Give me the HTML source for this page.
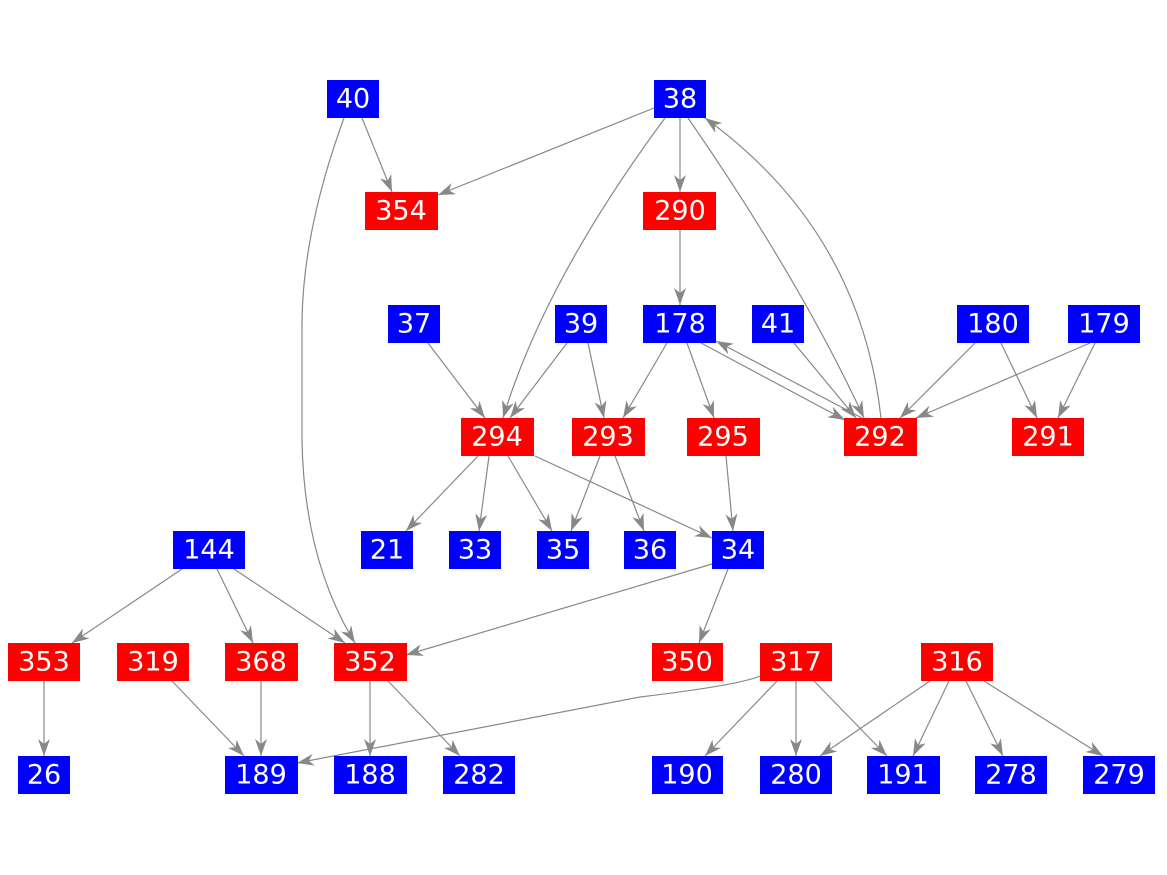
<!DOCTYPE html>
<html><head><meta charset="utf-8"><style>
html,body{margin:0;padding:0;background:#fff;}
svg{display:block;}
text{font-family:"DejaVu Sans","Liberation Sans",sans-serif;font-size:27px;fill:#fff;text-anchor:middle;dominant-baseline:central;}
.e{stroke:#888;stroke-width:1.2;fill:none;marker-end:url(#a);}
</style></head><body>
<svg width="1167" height="875" viewBox="0 0 1167 875" xmlns="http://www.w3.org/2000/svg">
<defs><marker id="a" markerUnits="userSpaceOnUse" markerWidth="18" markerHeight="14" refX="17" refY="6" orient="auto"><path d="M0,0 L17,6 L0,12 L5,6 z" fill="#888"/></marker></defs>
<g>
<path class="e" d="M362,118 L392,192"/>
<path class="e" d="M344,118 Q303,230 302,322 L302,440 Q304,560 355,643"/>
<path class="e" d="M654,108 L438,195"/>
<path class="e" d="M680,118 L680,192"/>
<path class="e" d="M665,118 Q545,280 503,418"/>
<path class="e" d="M688,118 Q800,280 864,418"/>
<path class="e" d="M881,418 Q860,230 705,118"/>
<path class="e" d="M680,230 L680,305"/>
<path class="e" d="M428,343 L485,418"/>
<path class="e" d="M567,343 L510,418"/>
<path class="e" d="M588,343 L604,418"/>
<path class="e" d="M667,343 L623,418"/>
<path class="e" d="M687,343 L714,418"/>
<path class="e" d="M701,343 L845,420"/>
<path class="e" d="M862,418 L716,341"/>
<path class="e" d="M794,343 L856,418"/>
<path class="e" d="M975,343 L900,418"/>
<path class="e" d="M1001,343 L1037,418"/>
<path class="e" d="M1090,343 L916,418"/>
<path class="e" d="M1095,343 L1058,418"/>
<path class="e" d="M478,456 L406,531"/>
<path class="e" d="M489,456 L479,531"/>
<path class="e" d="M508,456 L552,531"/>
<path class="e" d="M535,456 L712,538"/>
<path class="e" d="M600,456 L571,531"/>
<path class="e" d="M615,456 L644,531"/>
<path class="e" d="M726,456 L733,531"/>
<path class="e" d="M712,564 L406,655"/>
<path class="e" d="M728,569 L699,643"/>
<path class="e" d="M182,569 L72,643"/>
<path class="e" d="M217,569 L253,643"/>
<path class="e" d="M234,569 L345,643"/>
<path class="e" d="M44,681 L44,756"/>
<path class="e" d="M172,681 L244,756"/>
<path class="e" d="M261,681 L261,756"/>
<path class="e" d="M370,681 L370,756"/>
<path class="e" d="M388,681 L460,756"/>
<path class="e" d="M760,676 Q740,685 640,697 L297,763"/>
<path class="e" d="M777,681 L705,756"/>
<path class="e" d="M796,681 L796,756"/>
<path class="e" d="M814,681 L887,756"/>
<path class="e" d="M930,681 L820,756"/>
<path class="e" d="M949,681 L913,756"/>
<path class="e" d="M966,681 L1003,756"/>
<path class="e" d="M984,681 L1103,756"/>
</g>
<g>
<rect x="327" y="80" width="52" height="38" fill="#0000ff"/><text x="353" y="99">40</text>
<rect x="654" y="80" width="52" height="38" fill="#0000ff"/><text x="680" y="99">38</text>
<rect x="365" y="192" width="73" height="38" fill="#ff0000"/><text x="401" y="211">354</text>
<rect x="643" y="192" width="73" height="38" fill="#ff0000"/><text x="680" y="211">290</text>
<rect x="388" y="305" width="52" height="38" fill="#0000ff"/><text x="414" y="324">37</text>
<rect x="555" y="305" width="52" height="38" fill="#0000ff"/><text x="581" y="324">39</text>
<rect x="643" y="305" width="73" height="38" fill="#0000ff"/><text x="680" y="324">178</text>
<rect x="752" y="305" width="52" height="38" fill="#0000ff"/><text x="778" y="324">41</text>
<rect x="957" y="305" width="72" height="38" fill="#0000ff"/><text x="993" y="324">180</text>
<rect x="1068" y="305" width="72" height="38" fill="#0000ff"/><text x="1104" y="324">179</text>
<rect x="461" y="418" width="73" height="38" fill="#ff0000"/><text x="497" y="437">294</text>
<rect x="572" y="418" width="73" height="38" fill="#ff0000"/><text x="608" y="437">293</text>
<rect x="687" y="418" width="73" height="38" fill="#ff0000"/><text x="723" y="437">295</text>
<rect x="844" y="418" width="73" height="38" fill="#ff0000"/><text x="880" y="437">292</text>
<rect x="1012" y="418" width="72" height="38" fill="#ff0000"/><text x="1048" y="437">291</text>
<rect x="361" y="531" width="52" height="38" fill="#0000ff"/><text x="387" y="550">21</text>
<rect x="449" y="531" width="52" height="38" fill="#0000ff"/><text x="475" y="550">33</text>
<rect x="537" y="531" width="52" height="38" fill="#0000ff"/><text x="563" y="550">35</text>
<rect x="624" y="531" width="52" height="38" fill="#0000ff"/><text x="650" y="550">36</text>
<rect x="712" y="531" width="52" height="38" fill="#0000ff"/><text x="738" y="550">34</text>
<rect x="173" y="531" width="72" height="38" fill="#0000ff"/><text x="209" y="550">144</text>
<rect x="8" y="643" width="72" height="38" fill="#ff0000"/><text x="44" y="662">353</text>
<rect x="117" y="643" width="72" height="38" fill="#ff0000"/><text x="153" y="662">319</text>
<rect x="225" y="643" width="73" height="38" fill="#ff0000"/><text x="261" y="662">368</text>
<rect x="334" y="643" width="73" height="38" fill="#ff0000"/><text x="370" y="662">352</text>
<rect x="652" y="643" width="71" height="38" fill="#ff0000"/><text x="687" y="662">350</text>
<rect x="760" y="643" width="72" height="38" fill="#ff0000"/><text x="796" y="662">317</text>
<rect x="921" y="643" width="72" height="38" fill="#ff0000"/><text x="957" y="662">316</text>
<rect x="18" y="756" width="52" height="38" fill="#0000ff"/><text x="44" y="775">26</text>
<rect x="225" y="756" width="73" height="38" fill="#0000ff"/><text x="261" y="775">189</text>
<rect x="334" y="756" width="73" height="38" fill="#0000ff"/><text x="370" y="775">188</text>
<rect x="443" y="756" width="72" height="38" fill="#0000ff"/><text x="479" y="775">282</text>
<rect x="652" y="756" width="71" height="38" fill="#0000ff"/><text x="687" y="775">190</text>
<rect x="760" y="756" width="72" height="38" fill="#0000ff"/><text x="796" y="775">280</text>
<rect x="867" y="756" width="73" height="38" fill="#0000ff"/><text x="903" y="775">191</text>
<rect x="975" y="756" width="72" height="38" fill="#0000ff"/><text x="1011" y="775">278</text>
<rect x="1083" y="756" width="72" height="38" fill="#0000ff"/><text x="1119" y="775">279</text>
</g>
</svg>
</body></html>
